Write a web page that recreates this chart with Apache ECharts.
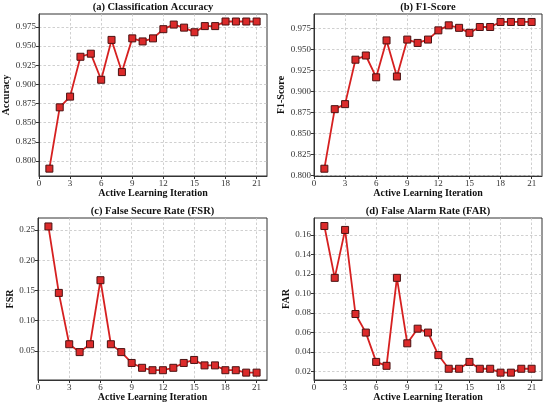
<!DOCTYPE html>
<html>
<head>
<meta charset="utf-8">
<script src="https://cdn.jsdelivr.net/npm/echarts@6/dist/echarts.min.js"></script>
<style>
  html, body { margin: 0; padding: 0; background: #fff; }
  #chart { width: 550px; height: 408px; }
</style>
</head>
<body>
<div id="chart"></div>
<script>
// iterations (x) and the four metrics
const iterations = [1, 2, 3, 4, 5, 6, 7, 8, 9, 10, 11, 12, 13, 14, 15, 16, 17, 18, 19, 20, 21]
const accuracy = [0.790, 0.870, 0.884, 0.936, 0.940, 0.906, 0.958, 0.916, 0.960, 0.956, 0.960,
  0.972, 0.978, 0.974, 0.968, 0.976, 0.976, 0.982, 0.982, 0.982, 0.982]
const f1Score = [0.808, 0.879, 0.885, 0.938, 0.943, 0.917, 0.961, 0.918, 0.962, 0.958, 0.962,
  0.973, 0.979, 0.976, 0.970, 0.977, 0.977, 0.983, 0.983, 0.983, 0.983]
const fsr = [0.256, 0.146, 0.061, 0.048, 0.061, 0.167, 0.061, 0.048, 0.030, 0.022, 0.018,
  0.018, 0.022, 0.030, 0.035, 0.026, 0.026, 0.018, 0.018, 0.014, 0.014]
const far = [0.169, 0.116, 0.165, 0.079, 0.060, 0.030, 0.026, 0.116, 0.049, 0.064, 0.060,
  0.037, 0.023, 0.023, 0.030, 0.023, 0.023, 0.019, 0.019, 0.023, 0.023]

// tick labels
const xTicks = [0, 3, 6, 9, 12, 15, 18, 21]
const accTicks = [0.800, 0.825, 0.850, 0.875, 0.900, 0.925, 0.950, 0.975]
const f1Ticks = [0.800, 0.825, 0.850, 0.875, 0.900, 0.925, 0.950, 0.975]
const fsrTicks = [0.05, 0.10, 0.15, 0.20, 0.25]
const farTicks = [0.02, 0.04, 0.06, 0.08, 0.10, 0.12, 0.14, 0.16]

const panels = [
  { title: '(a) Classification Accuracy', yName: 'Accuracy', values: accuracy, ticks: accTicks,
    min: 0.7804, max: 0.9918, digits: 3, nameGap: 27,
    grid: { left: 39, top: 14, width: 228, height: 162 } },
  { title: '(b) F1-Score', yName: 'F1-Score', values: f1Score, ticks: f1Ticks,
    min: 0.7993, max: 0.9925, digits: 3, nameGap: 26,
    grid: { left: 314, top: 14, width: 228, height: 162 } },
  { title: '(c) False Secure Rate (FSR)', yName: 'FSR', values: fsr, ticks: fsrTicks,
    min: 0.0018, max: 0.2700, digits: 2, nameGap: 22,
    grid: { left: 38, top: 218, width: 229, height: 162 } },
  { title: '(d) False Alarm Rate (FAR)', yName: 'FAR', values: far, ticks: farTicks,
    min: 0.0115, max: 0.1772, digits: 2, nameGap: 22,
    grid: { left: 314, top: 218, width: 228, height: 162 } }
]

const font = '"Liberation Serif", "DejaVu Serif", serif'
const frame = '#333'

let chart = echarts.init(document.getElementById('chart'), null, { renderer: 'canvas' })

let option = {
  backgroundColor: '#fff',
  animation: false,
  title: panels.map(function (p) {
    return {
      text: p.title,
      left: p.grid.left + p.grid.width / 2,
      top: p.grid.top - 12,
      padding: 0,
      textAlign: 'center',
      textStyle: { fontFamily: font, fontSize: 10.5, fontWeight: 'bold', color: '#111' }
    }
  }),
  grid: panels.map(function (p) {
    return Object.assign({ show: true, borderColor: frame, borderWidth: 1, containLabel: false }, p.grid)
  }),
  xAxis: panels.map(function (p, i) {
    return {
      type: 'value',
      gridIndex: i,
      min: 0,
      max: 22,
      name: 'Active Learning Iteration',
      nameLocation: 'middle',
      nameGap: 12,
      nameTextStyle: { fontFamily: font, fontSize: 10, fontWeight: 'bold', color: '#111' },
      axisLine: { show: true, onZero: false, lineStyle: { color: frame, width: 1 } },
      axisTick: { show: true, length: 3, customValues: xTicks, lineStyle: { color: frame } },
      axisLabel: { customValues: xTicks, margin: 3, fontFamily: font, fontSize: 9, color: '#333' },
      splitLine: { show: true, lineStyle: { color: '#c4c4c4', width: 0.8, type: [2.5, 2] } }
    }
  }),
  yAxis: panels.map(function (p, i) {
    return {
      type: 'value',
      gridIndex: i,
      min: p.min,
      max: p.max,
      name: p.yName,
      nameLocation: 'middle',
      nameGap: p.nameGap,
      nameTextStyle: { fontFamily: font, fontSize: 10, fontWeight: 'bold', color: '#111' },
      axisLine: { show: true, onZero: false, lineStyle: { color: frame, width: 1 } },
      axisTick: { show: true, length: 3, customValues: p.ticks, lineStyle: { color: frame } },
      axisLabel: {
        customValues: p.ticks,
        margin: 3,
        fontFamily: font,
        fontSize: 9,
        color: '#333',
        formatter: function (v) { return v.toFixed(p.digits) }
      },
      splitLine: { show: true, lineStyle: { color: '#c4c4c4', width: 0.8, type: [2.5, 2] } }
    }
  }),
  series: panels.map(function (p, i) {
    return {
      type: 'line',
      xAxisIndex: i,
      yAxisIndex: i,
      data: iterations.map(function (x, k) { return [x, p.values[k]] }),
      symbol: 'rect',
      symbolSize: 7,
      showAllSymbol: true,
      lineStyle: { color: '#d62020', width: 1.8 },
      itemStyle: { color: '#dc2a2a', borderColor: '#4a1212', borderWidth: 1 },
      z: 3
    }
  })
}

chart.setOption(option)
</script>
</body>
</html>
